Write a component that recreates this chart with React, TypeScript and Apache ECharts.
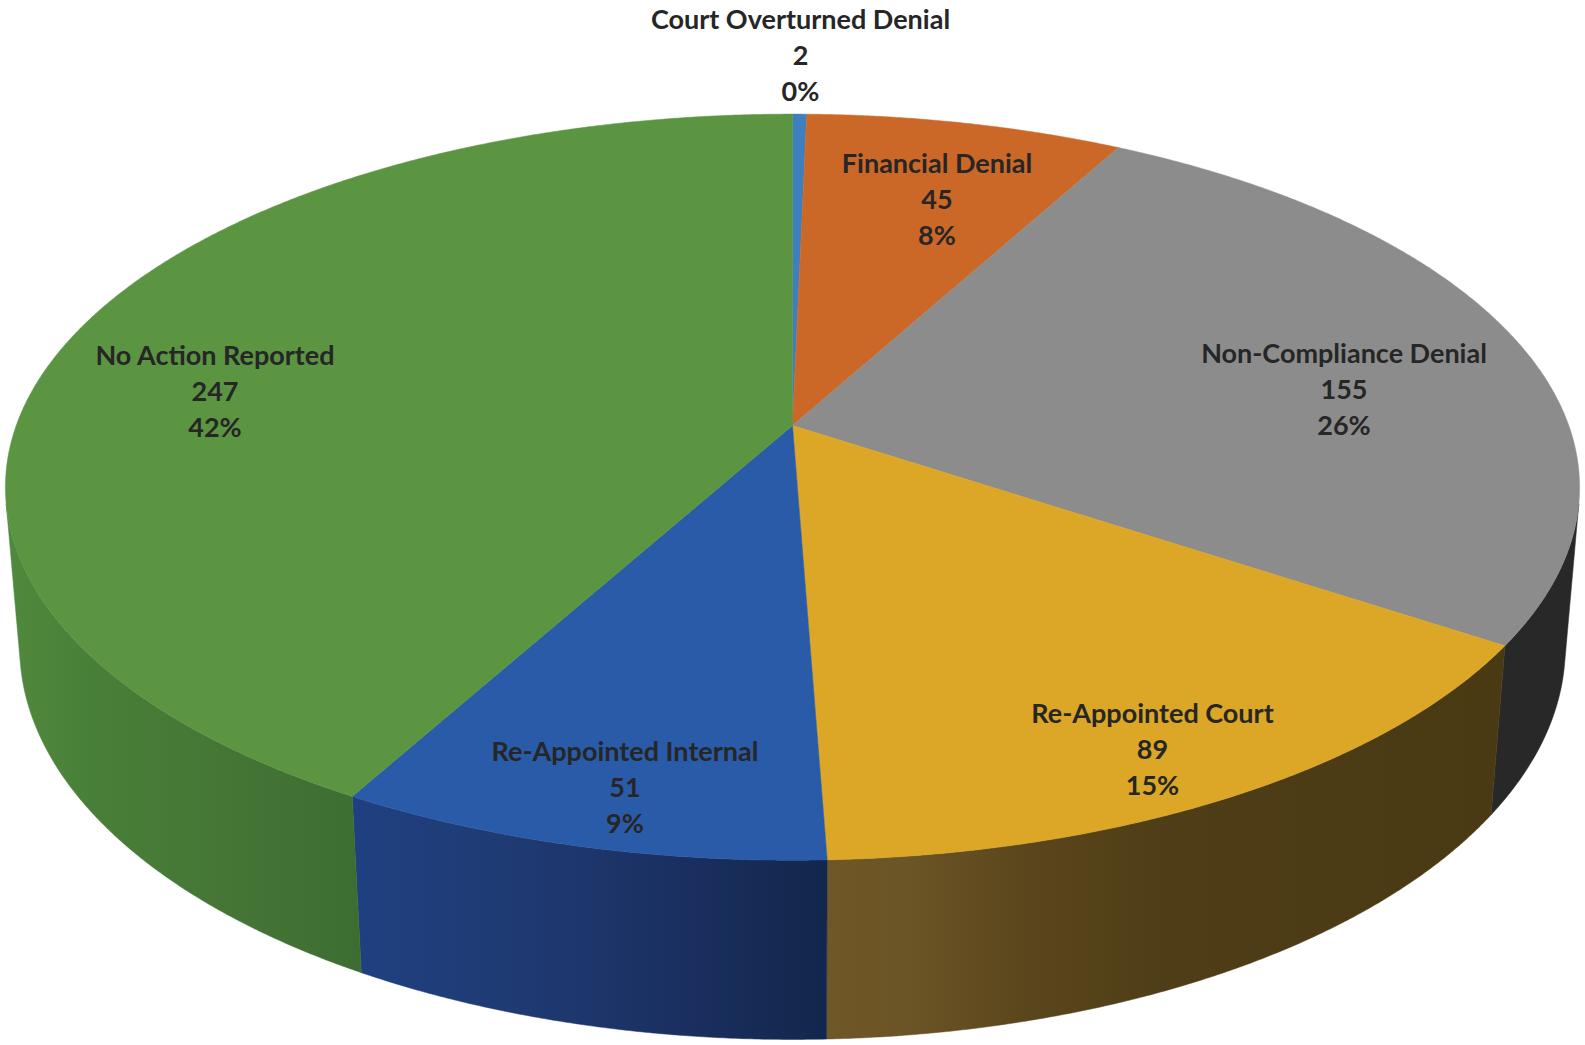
import React, { useEffect, useRef } from "react";
import * as echarts from "echarts";

const categories = [
  "Court Overturned Denial",
  "Financial Denial",
  "Non-Compliance Denial",
  "Re-Appointed Court",
  "Re-Appointed Internal",
  "No Action Reported",
];
const values = [2, 45, 155, 89, 51, 247];

const topColors = ["#3f7fbd", "#cb6828", "#8c8c8c", "#dca726", "#2a5ba8", "#5b9542"];
const sideStops: [number, string][][] = [
  [[0, "#2a5080"], [1, "#2a5080"]],
  [[0, "#7a3f18"], [1, "#7a3f18"]],
  [[0, "#282828"], [1, "#282828"]],
  [[0.0, "#6f5727"], [0.12, "#6b5425"], [0.3, "#5a461c"], [0.5, "#4e3d16"], [1, "#4a3a14"]],
  [[0.0, "#1f4080"], [0.35, "#1f3a72"], [0.7, "#1a2f60"], [0.93, "#13294f"], [1, "#11274f"]],
  [[0.0, "#508a3d"], [0.25, "#487f38"], [0.6, "#457636"], [0.9, "#3f7033"], [1, "#3c6c31"]],
];
const sideRanges: [number, number][] = [
  [0, 1585], [0, 1585], [1490, 1580], [827, 1510], [360, 827], [5, 365],
];
// label centres (x, first-line y) in page pixels
const labelPos: [number, number][] = [
  [800.5, 18.5], [937, 162], [1344, 352], [1152.5, 712], [625, 750], [215, 354],
];

const L = {
  ax: 792.5, ay: 425.6, rx: 776.3, ry: 362.9, p: 0.165, e: 0.018, d: 160.7,
  step: 0.25, fontSize: 27, lineGap: 36, text: "#262626",
};

const total = values.reduce((s, v) => s + v, 0);
const startAngle = (i: number) =>
  (values.slice(0, i).reduce((s, v) => s + v, 0) / total) * 360;

const project = (deg: number, z: number): [number, number] => {
  const t = (deg * Math.PI) / 180;
  const u = Math.sin(t);
  const v = -Math.cos(t);
  const w = 1 - L.p * v + L.e * z;
  return [L.ax + (L.rx * u) / w, L.ay + (L.ry * v + L.d * z) / w];
};

const arcAngles = (a0: number, a1: number) => {
  const out: number[] = [];
  for (let a = a0; a < a1; a += L.step) out.push(a);
  out.push(a1);
  return out;
};

const frontFacing = (a: number) => {
  const p = project(a, 0);
  const n = project(a + 0.01, 0);
  const q = project(a, 1);
  return (n[0] - p[0]) * (q[1] - p[1]) - (n[1] - p[1]) * (q[0] - p[0]) < 0;
};

const renderSide = (params: any) => {
  const i = params.dataIndex;
  const angles = arcAngles(startAngle(i), startAngle(i + 1)).filter(frontFacing);
  if (angles.length < 2) return { type: "group", children: [] };
  const points = [
    ...angles.map((a) => project(a, 0)),
    ...angles.slice().reverse().map((a) => project(a, 1)),
  ];
  const fill = {
    type: "linear", global: true,
    x: sideRanges[i][0], y: 0, x2: sideRanges[i][1], y2: 0,
    colorStops: sideStops[i].map(([offset, color]) => ({ offset, color })),
  };
  return { type: "polygon", shape: { points }, style: { fill, stroke: fill, lineWidth: 0.5 } };
};

const renderTop = (params: any) => {
  const i = params.dataIndex;
  const points = [
    [L.ax, L.ay],
    ...arcAngles(startAngle(i), startAngle(i + 1)).map((a) => project(a, 0)),
  ];
  return {
    type: "polygon",
    shape: { points },
    style: { fill: topColors[i], stroke: topColors[i], lineWidth: 0.5 },
  };
};

const renderLabel = (params: any, api: any) => {
  const i = params.dataIndex;
  const val = api.value(0);
  const lines = [categories[i], String(val), `${Math.round((val / total) * 100)}%`];
  return {
    type: "group",
    children: lines.map((text, k) => ({
      type: "text",
      x: labelPos[i][0],
      y: labelPos[i][1] + k * L.lineGap,
      style: {
        text,
        fill: L.text,
        fontFamily: "Lato",
        fontWeight: "bold",
        fontSize: L.fontSize,
        textAlign: "center",
        textVerticalAlign: "middle",
      },
    })),
  };
};

export default function App() {
  const ref = useRef<HTMLDivElement>(null);
  useEffect(() => {
    const chart = echarts.init(ref.current!, undefined, { renderer: "svg" });
    const data = values.map((v, i) => ({ name: categories[i], value: [v] }));
    const base = { type: "custom", coordinateSystem: "none", data, silent: true, clip: false };
    chart.setOption({
      animation: false,
      backgroundColor: "#ffffff",
      series: [
        { ...base, name: "sides", z: 1, renderItem: renderSide },
        { ...base, name: "tops", z: 2, renderItem: renderTop },
        { ...base, name: "labels", z: 3, renderItem: renderLabel },
      ],
    });
    return () => chart.dispose();
  }, []);
  return (
    <div
      ref={ref}
      style={{ position: "fixed", left: 0, top: 0, width: 1585, height: 1045 }}
    />
  );
}
